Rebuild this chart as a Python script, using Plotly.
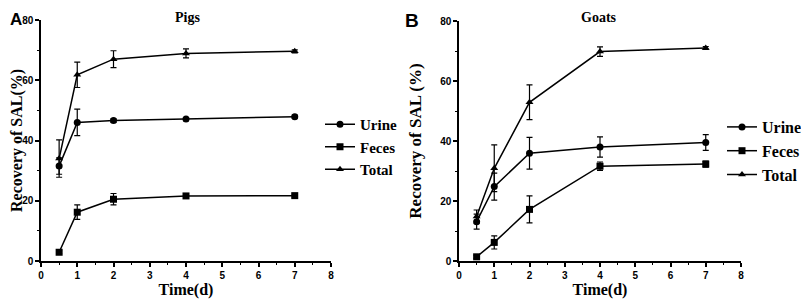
import plotly.graph_objects as go

days = [0.5, 1, 2, 4, 7]

pig_urine = [31.5, 46.0, 46.6, 47.1, 47.9]
pig_urine_err = [2.7, 4.4, 0.6, 0.5, 0.5]
pig_feces = [2.9, 16.2, 20.5, 21.6, 21.7]
pig_feces_err = [0.5, 2.4, 1.9, 0.5, 0.5]
pig_total = [34.0, 61.8, 67.0, 68.9, 69.6]
pig_total_err = [6.2, 4.2, 2.8, 1.5, 0.5]

goat_urine = [13.1, 24.8, 35.9, 38.0, 39.5]
goat_urine_err = [2.5, 4.5, 5.3, 3.4, 2.6]
goat_feces = [1.4, 6.2, 17.2, 31.6, 32.3]
goat_feces_err = [0.5, 2.2, 4.5, 1.4, 1.0]
goat_total = [14.8, 30.9, 52.9, 69.8, 71.0]
goat_total_err = [2.2, 7.8, 5.8, 1.6, 0.5]

series_names = ["Urine", "Feces", "Total"]
symbols = ["circle", "square", "triangle-up"]

SERIF = "Liberation Serif"
SANS = "Liberation Sans"

# The page body adds an 8px margin; the figure is sized so it fits in the window.
W, H = 801, 299
OFF = 8


def px(x):
    return (x - OFF) / W


def py(y):
    return 1 - (y - OFF) / H


fig = go.Figure()

panels = [
    ("x", "y", "legend", [pig_urine, pig_feces, pig_total], [pig_urine_err, pig_feces_err, pig_total_err]),
    ("x2", "y2", "legend2", [goat_urine, goat_feces, goat_total], [goat_urine_err, goat_feces_err, goat_total_err]),
]
for xa, ya, lg, vals, errs in panels:
    for name, sym, v, e in zip(series_names, symbols, vals, errs):
        fig.add_trace(go.Scatter(
            x=days, y=v, name=name, mode="lines+markers",
            xaxis=xa, yaxis=ya, legend=lg,
            line=dict(color="black", width=1.5),
            marker=dict(symbol=sym, size=7, color="black"),
            error_y=dict(type="data", array=e, visible=True, color="black", thickness=1.2, width=3),
        ))

axis_common = dict(
    showline=True, linecolor="black", linewidth=1.5, ticks="outside", ticklen=4,
    tickwidth=1.5, tickcolor="black", showgrid=False, zeroline=False, automargin=False,
    tickfont=dict(family=SANS, size=10, color="black", weight="bold"),
)
minor_x = dict(dtick=0.5, ticks="outside", ticklen=2.5, tickwidth=1.2, tickcolor="black")
minor_y = dict(dtick=10, ticks="outside", ticklen=2.5, tickwidth=1.2, tickcolor="black")
title_font = dict(family=SERIF, size=16, color="black", weight="bold")

fig.update_layout(
    width=W, height=H, margin=dict(l=0, r=0, t=0, b=0, autoexpand=False),
    paper_bgcolor="white", plot_bgcolor="white",
    xaxis=dict(domain=[px(41), px(331)], range=[0, 8], dtick=1, anchor="y", minor=minor_x,
               title=dict(text="Time(d)", font=title_font, standoff=3), **axis_common),
    yaxis=dict(domain=[py(261), py(20)], range=[0, 80], dtick=20, anchor="x", minor=minor_y,
               title=dict(text="Recovery of SAL(%)", font=title_font, standoff=2), **axis_common),
    xaxis2=dict(domain=[px(459), px(741)], range=[0, 8], dtick=1, anchor="y2", minor=minor_x,
                title=dict(text="Time(d)", font=title_font, standoff=3), **axis_common),
    yaxis2=dict(domain=[py(261), py(21)], range=[0, 80], dtick=20, anchor="x2", minor=minor_y,
                title=dict(text="Recovery of SAL (%)",
                           font=dict(family=SERIF, size=17, color="black", weight="bold"), standoff=14),
                **axis_common),
    legend=dict(x=px(320), y=py(147), xanchor="left", yanchor="middle", bgcolor="rgba(0,0,0,0)",
                font=dict(family=SERIF, size=15, color="black", weight="bold")),
    legend2=dict(x=px(722), y=py(151), xanchor="left", yanchor="middle", bgcolor="rgba(0,0,0,0)",
                 font=dict(family=SERIF, size=16, color="black", weight="bold")),
    showlegend=True,
    annotations=[
        dict(text="Pigs", x=px(187), y=1, xref="paper", yref="paper", showarrow=False,
             xanchor="center", yanchor="top",
             font=dict(family=SERIF, size=14, color="black", weight="bold")),
        dict(text="Goats", x=px(599), y=1, xref="paper", yref="paper", showarrow=False,
             xanchor="center", yanchor="top",
             font=dict(family=SERIF, size=14, color="black", weight="bold")),
        dict(text="A", x=0, y=1, xref="paper", yref="paper", showarrow=False,
             xanchor="left", yanchor="top",
             font=dict(family=SANS, size=17, color="black", weight="bold")),
        dict(text="B", x=px(403), y=1, xref="paper", yref="paper", showarrow=False,
             xanchor="left", yanchor="top",
             font=dict(family=SANS, size=19, color="black", weight="bold")),
    ],
)

fig.write_html("out.html")
